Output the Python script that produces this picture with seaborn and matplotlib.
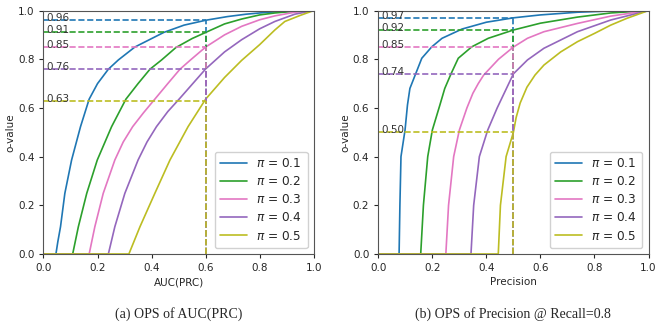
import pandas as pd
import seaborn as sns
import matplotlib.pyplot as plt

# values
labels = [r'$\pi$ = 0.1', r'$\pi$ = 0.2', r'$\pi$ = 0.3', r'$\pi$ = 0.4', r'$\pi$ = 0.5']
colors = ['#1f77b4', '#2ca02c', '#e377c2', '#9467bd', '#bcbd22']

# (a) o-value vs AUC(PRC)
auc_x = [
    [0.0, 0.046, 0.053, 0.063, 0.079, 0.104, 0.137, 0.169, 0.2, 0.24, 0.277, 0.338, 0.445,
     0.52, 0.6, 0.68, 0.75, 0.82, 0.9, 1.0],
    [0.0, 0.108, 0.129, 0.16, 0.199, 0.252, 0.305, 0.35, 0.394, 0.437, 0.49, 0.55, 0.6,
     0.67, 0.733, 0.8, 0.856, 0.93, 1.0],
    [0.0, 0.169, 0.19, 0.221, 0.264, 0.295, 0.33, 0.37, 0.412, 0.46, 0.505, 0.544, 0.6,
     0.67, 0.733, 0.8, 0.856, 0.93, 1.0],
    [0.0, 0.24, 0.264, 0.301, 0.35, 0.383, 0.418, 0.46, 0.505, 0.6, 0.67, 0.733, 0.8,
     0.856, 0.93, 1.0],
    [0.0, 0.316, 0.357, 0.412, 0.468, 0.535, 0.6, 0.67, 0.733, 0.8, 0.856, 0.893, 0.95, 1.0],
]
auc_y = [
    [0.0, 0.0, 0.05, 0.112, 0.249, 0.386, 0.523, 0.636, 0.70, 0.759, 0.797, 0.85, 0.91,
     0.94, 0.96, 0.975, 0.985, 0.992, 0.997, 1.0],
    [0.0, 0.0, 0.112, 0.249, 0.386, 0.523, 0.636, 0.70, 0.759, 0.797, 0.848, 0.885, 0.91,
     0.945, 0.965, 0.982, 0.99, 0.997, 1.0],
    [0.0, 0.0, 0.112, 0.249, 0.386, 0.46, 0.523, 0.58, 0.636, 0.70, 0.759, 0.797, 0.85,
     0.9, 0.935, 0.962, 0.978, 0.993, 1.0],
    [0.0, 0.0, 0.112, 0.249, 0.386, 0.46, 0.523, 0.585, 0.64, 0.76, 0.83, 0.88, 0.925,
     0.955, 0.985, 1.0],
    [0.0, 0.0, 0.112, 0.249, 0.386, 0.523, 0.636, 0.725, 0.795, 0.86, 0.92, 0.955, 0.98, 1.0],
]
auc_mark = 0.6
auc_vals = [0.96, 0.91, 0.85, 0.76, 0.63]

# (b) o-value vs Precision @ Recall=0.8
prec_x = [
    [0.0, 0.077, 0.08, 0.084, 0.099, 0.108, 0.117, 0.139, 0.161, 0.198, 0.236, 0.31, 0.4,
     0.5, 0.6, 0.737, 0.86, 1.0],
    [0.0, 0.157, 0.167, 0.183, 0.2, 0.228, 0.246, 0.27, 0.296, 0.346, 0.407, 0.5, 0.6,
     0.737, 0.86, 1.0],
    [0.0, 0.25, 0.26, 0.279, 0.30, 0.328, 0.35, 0.37, 0.39, 0.445, 0.5, 0.552, 0.613,
     0.737, 0.86, 1.0],
    [0.0, 0.343, 0.353, 0.374, 0.405, 0.44, 0.5, 0.552, 0.613, 0.737, 0.86, 1.0],
    [0.0, 0.444, 0.452, 0.473, 0.5, 0.51, 0.525, 0.55, 0.58, 0.613, 0.675, 0.737, 0.8,
     0.86, 0.92, 1.0],
]
prec_y = [
    [0.0, 0.0, 0.2, 0.4, 0.509, 0.612, 0.68, 0.742, 0.804, 0.851, 0.886, 0.924, 0.952,
     0.97, 0.982, 0.993, 0.998, 1.0],
    [0.0, 0.0, 0.2, 0.4, 0.509, 0.612, 0.68, 0.742, 0.804, 0.851, 0.886, 0.92, 0.948,
     0.973, 0.99, 1.0],
    [0.0, 0.0, 0.2, 0.4, 0.509, 0.6, 0.66, 0.70, 0.735, 0.80, 0.85, 0.886, 0.913, 0.947,
     0.977, 1.0],
    [0.0, 0.0, 0.2, 0.4, 0.509, 0.6, 0.74, 0.797, 0.845, 0.913, 0.961, 1.0],
    [0.0, 0.0, 0.2, 0.4, 0.50, 0.56, 0.62, 0.685, 0.735, 0.776, 0.83, 0.872, 0.906,
     0.94, 0.968, 1.0],
]
prec_mark = 0.5
prec_vals = [0.97, 0.92, 0.85, 0.74, 0.50]


def to_frame(xs, ys):
    rows = []
    for lab, x, y in zip(labels, xs, ys):
        for a, b in zip(x, y):
            rows.append({'x': a, 'y': b, 'pi': lab})
    return pd.DataFrame(rows)


sns.set_style('ticks')
plt.rcParams['font.family'] = ['DejaVu Sans']

fig = plt.figure(figsize=(6.64, 3.29), dpi=100)
ax1 = fig.add_axes([0.0655, 0.228, 0.407, 0.740])
ax2 = fig.add_axes([0.5697, 0.228, 0.407, 0.740])

panels = [
    (ax1, auc_x, auc_y, auc_mark, auc_vals, 'AUC(PRC)', '(a) OPS of AUC(PRC)'),
    (ax2, prec_x, prec_y, prec_mark, prec_vals, 'Precision', '(b) OPS of Precision @ Recall=0.8'),
]

for ax, xs, ys, mark, vals, xlab, cap in panels:
    df = to_frame(xs, ys)
    sns.lineplot(data=df, x='x', y='y', hue='pi', palette=colors,
                 sort=False, estimator=None, linewidth=1.2, ax=ax)
    for v, c in zip(vals, colors):
        ax.hlines(v, 0, mark, colors=c, linestyles='--', linewidth=1.2)
        ax.vlines(mark, 0, v, colors=c, linestyles='--', linewidth=1.2)
        ax.text(0.012, v - 0.004, f'{v:.2f}', fontsize=7.5, color='#333333',
                ha='left', va='baseline')
    ax.set_xlim(0, 1)
    ax.set_ylim(0, 1)
    ax.set_xticks([0, 0.2, 0.4, 0.6, 0.8, 1.0])
    ax.set_yticks([0, 0.2, 0.4, 0.6, 0.8, 1.0])
    ax.tick_params(labelsize=7.5, length=3, width=0.8)
    ax.set_xlabel(xlab, fontsize=7.5, labelpad=3)
    ax.set_ylabel('o-value', fontsize=7.5, labelpad=2)
    for s in ax.spines.values():
        s.set_linewidth(0.8)
        s.set_color('#555555')
    leg = ax.legend(loc='lower right', fontsize=8.7, title=None,
                    handlelength=2.2, borderpad=0.45, labelspacing=0.42,
                    fancybox=True, framealpha=0.9)
    for line in leg.get_lines():
        line.set_linewidth(1.2)
    pos = ax.get_position()
    fig.text(pos.x0 + pos.width / 2, 0.045, cap, ha='center', va='center',
             fontsize=10, family='Liberation Serif')

fig.savefig('out.png', dpi=100)
